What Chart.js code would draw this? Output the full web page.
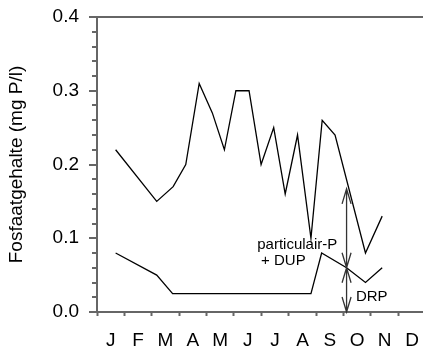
<!DOCTYPE html>
<html lang="nl">
<head>
<meta charset="UTF-8">
<title>Fosfaatgehalte</title>
<script src="https://cdn.jsdelivr.net/npm/chart.js"></script>
<style>
  body { margin: 0; background: #fff; }
  canvas { display: block; }
</style>
</head>
<body>
<canvas id="fosfaat" width="423" height="352"></canvas>
<script>
// month labels, one per interval on the x axis (x = months since 1 Jan)
const months = ['J', 'F', 'M', 'A', 'M', 'J', 'J', 'A', 'S', 'O', 'N', 'D'];

// totaal-P (upper line)
const totalMonth = [0.68, 2.18, 2.78, 3.24, 3.73, 4.21, 4.65, 5.07, 5.55, 5.99, 6.45, 6.87, 7.32, 7.81, 8.22, 8.69, 9.8, 10.41];
const totalP     = [0.22, 0.15, 0.17, 0.20, 0.31, 0.27, 0.22, 0.30, 0.30, 0.20, 0.25, 0.16, 0.24, 0.10, 0.26, 0.24, 0.08, 0.13];

// DRP (lower line)
const drpMonth = [0.68, 2.18, 2.76, 7.81, 8.2, 9.11, 9.8, 10.41];
const drp      = [0.08, 0.05, 0.025, 0.025, 0.08, 0.06, 0.04, 0.06];

// y ticks: every 0.02, labelled every 0.1
const yMax = 0.4;
const yStep = 0.02;

// double arrows: particulair-P + DUP above DRP, DRP down to zero
const arrowMonth = 9.11;
const arrowStops = [0.167, 0.06, 0];

const notes = [
    { text: 'particulair-P', x: 5.85, y: 0.086 },
    { text: '+ DUP', x: 5.99, y: 0.064 },
    { text: 'DRP', x: 9.45, y: 0.015 }
];

const axisGrey = '#666';
const fontFamily = '"Liberation Sans", Arial, sans-serif';

const isMajor = v => Math.abs(v * 10 - Math.round(v * 10)) < 1e-6;

const toPoints = (xs, ys) => xs.map((m, i) => ({ x: m, y: ys[i] }));

const arrowPlugin = {
    id: 'arrows',
    afterDatasetsDraw(chart) {
        const { ctx, scales: { x, y } } = chart;
        const px = x.getPixelForValue(arrowMonth);
        ctx.save();
        ctx.strokeStyle = '#333';
        ctx.lineWidth = 1.3;
        ctx.beginPath();
        const head = (tipY, dir) => {
            ctx.moveTo(px - 4.5, tipY + dir * 15);
            ctx.lineTo(px, tipY);
            ctx.lineTo(px + 4.5, tipY + dir * 15);
        };
        for (let i = 0; i < arrowStops.length - 1; i++) {
            const a = y.getPixelForValue(arrowStops[i]);
            const b = y.getPixelForValue(arrowStops[i + 1]);
            ctx.moveTo(px, a);
            ctx.lineTo(px, b);
            head(a, 1);
            head(b, -1);
        }
        ctx.stroke();

        ctx.fillStyle = '#000';
        ctx.font = '15px ' + fontFamily;
        ctx.textAlign = 'left';
        ctx.textBaseline = 'alphabetic';
        notes.forEach(n => {
            ctx.fillText(n.text, x.getPixelForValue(n.x), y.getPixelForValue(n.y));
        });
        ctx.restore();
    }
};

new Chart(document.getElementById('fosfaat'), {
    type: 'line',
    data: {
        datasets: [
            {
                label: 'totaal-P',
                data: toPoints(totalMonth, totalP),
                borderColor: '#000',
                borderWidth: 1.3,
                pointRadius: 0,
                tension: 0
            },
            {
                label: 'DRP',
                data: toPoints(drpMonth, drp),
                borderColor: '#000',
                borderWidth: 1.3,
                pointRadius: 0,
                tension: 0
            }
        ]
    },
    options: {
        responsive: false,
        animation: false,
        layout: { padding: { top: 17, right: 0, bottom: 0, left: 0 } },
        plugins: {
            legend: { display: false },
            tooltip: { enabled: false }
        },
        scales: {
            x: {
                type: 'linear',
                min: 0,
                max: 11.9,
                afterBuildTicks: scale => {
                    scale.ticks = months.map((m, i) => ({ value: i }));
                },
                afterFit: scale => {
                    scale.height = 40;
                    scale.paddingLeft = 0;
                    scale.paddingRight = 0;
                },
                border: { color: axisGrey, width: 2 },
                grid: {
                    drawOnChartArea: false,
                    tickLength: 4,
                    tickColor: axisGrey,
                    tickWidth: 2
                },
                ticks: {
                    autoSkip: false,
                    maxRotation: 0,
                    padding: 13,
                    labelOffset: 13.7,
                    color: '#000',
                    font: { family: fontFamily, size: 19 },
                    callback: (v, i) => months[i]
                }
            },
            y: {
                min: 0,
                max: yMax,
                afterFit: scale => {
                    scale.width = 97;
                    scale.paddingTop = 0;
                    scale.paddingBottom = 0;
                },
                border: { color: axisGrey, width: 2 },
                grid: {
                    drawOnChartArea: true,
                    color: c => (c.tick && c.tick.value > yMax - 1e-6) ? axisGrey : 'rgba(0,0,0,0)',
                    lineWidth: 2,
                    tickLength: 8,
                    tickColor: axisGrey,
                    tickWidth: 2,
                    tickBorderDash: c => (c.tick && isMajor(c.tick.value)) ? [] : [0, 3, 5, 20]
                },
                ticks: {
                    autoSkip: false,
                    stepSize: yStep,
                    maxTicksLimit: 30,
                    padding: 10,
                    color: '#000',
                    font: { family: fontFamily, size: 19 },
                    callback: v => isMajor(v) ? v.toFixed(1) : ''
                },
                title: {
                    display: true,
                    text: 'Fosfaatgehalte (mg P/l)',
                    color: '#000',
                    padding: { top: 5, bottom: 0 },
                    font: { family: fontFamily, size: 19 }
                }
            }
        }
    },
    plugins: [arrowPlugin]
});
</script>
</body>
</html>
